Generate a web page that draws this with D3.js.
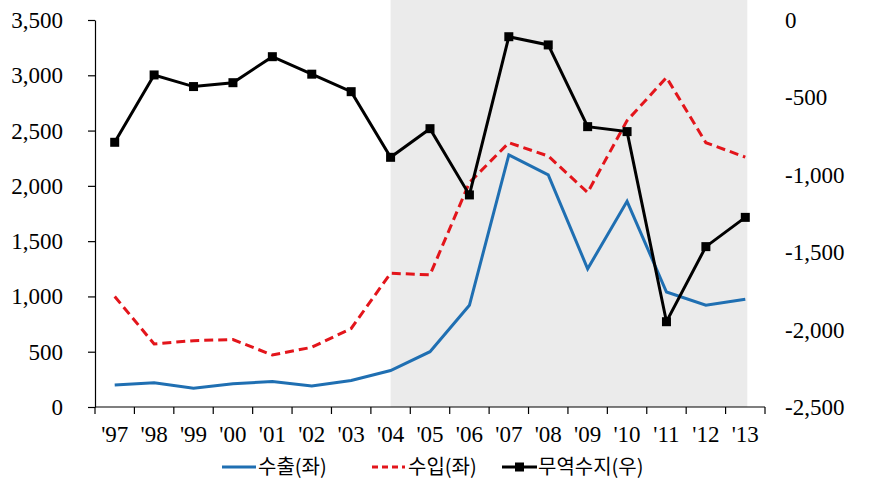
<!DOCTYPE html>
<html><head><meta charset="utf-8">
<script src="https://cdn.jsdelivr.net/npm/d3@7"></script>
</head>
<body style="margin:0;background:#fff">
<svg id="s" width="871" height="494" style="display:block"></svg>
<script>
const years = ["'97","'98","'99","'00","'01","'02","'03","'04","'05","'06","'07","'08","'09","'10","'11","'12","'13"];
const exportsVals = [200,220,170,210,230,190,240,330,500,920,2280,2100,1250,1860,1040,920,975];
const importsVals = [1000,570,600,610,470,540,710,1210,1195,2030,2390,2270,1940,2590,2980,2390,2260];
const balanceVals = [-790,-355,-430,-405,-237,-350,-463,-887,-702,-1130,-108,-161,-689,-721,-1949,-1464,-1275];
const leftTicks = [0,500,1000,1500,2000,2500,3000,3500];
const rightTicks = [0,-500,-1000,-1500,-2000,-2500];
const shadeRange = ["'04","'13"];
const legendLabels = ["수출(좌)","수입(좌)","무역수지(우)"];

const svg = d3.select("#s");
const pl = 95, pr = 765, pt = 20, pb = 407;
const x = d3.scaleBand().domain(years).range([pl,pr]).padding(0);
const cx = d => x(d) + x.bandwidth()/2;
const yL = d3.scaleLinear().domain([0,3500]).range([pb,pt]);
const yR = d3.scaleLinear().domain([-2500,0]).range([pb,pt]);
const f0 = d3.format(",");
const fmt = v => f0(v).replace("\u2212","-");
const blue = "#1f6fb2", red = "#e3151b";

svg.append("rect")
  .attr("x", cx(shadeRange[0])).attr("y", 0)
  .attr("width", cx(shadeRange[1]) - cx(shadeRange[0]) + 2)
  .attr("height", pb)
  .attr("fill", "#ebebeb");

const gL = svg.append("g").attr("transform", `translate(${pl},0)`)
  .call(d3.axisLeft(yL).tickValues(leftTicks).tickFormat("").tickSize(7).tickSizeOuter(0));
gL.select(".domain").attr("stroke","#000").attr("stroke-width",1.2);
gL.selectAll(".tick line").attr("stroke","#000").attr("stroke-width",1.2);
gL.selectAll(".tick text").remove();

leftTicks.forEach(v => {
  svg.append("text").attr("x", 63).attr("y", yL(v) + 8)
    .attr("text-anchor","end")
    .style("font-family",'"Liberation Serif"').style("font-size","23px")
    .text(fmt(v));
});
rightTicks.forEach(v => {
  svg.append("text").attr("x", 785).attr("y", yR(v) + 8)
    .style("font-family",'"Liberation Serif"').style("font-size","23px")
    .text(fmt(v));
});

svg.append("line").attr("x1",pl).attr("x2",pr).attr("y1",pb).attr("y2",pb).attr("stroke","#000").attr("stroke-width",1.2);
const bounds = years.map(d => x(d)).concat([pr]);
bounds.forEach(b => {
  svg.append("line").attr("x1",b).attr("x2",b).attr("y1",pb).attr("y2",pb+7).attr("stroke","#000").attr("stroke-width",1.2);
});
years.forEach(d => {
  svg.append("text").attr("x", cx(d)).attr("y", pb + 35)
    .attr("text-anchor","middle")
    .style("font-family",'"Liberation Serif"').style("font-size","23px")
    .text(d);
});

const lineL = d3.line().x((d,i)=>cx(years[i])).y(d=>yL(d));
const lineR = d3.line().x((d,i)=>cx(years[i])).y(d=>yR(d));
svg.append("path").attr("d", lineL(exportsVals)).attr("fill","none").attr("stroke",blue).attr("stroke-width",3);
svg.append("path").attr("d", lineL(importsVals)).attr("fill","none").attr("stroke",red).attr("stroke-width",3).attr("stroke-dasharray","9,5");
svg.append("path").attr("d", lineR(balanceVals)).attr("fill","none").attr("stroke","#000").attr("stroke-width",3);
balanceVals.forEach((v,i) => {
  svg.append("rect").attr("x",cx(years[i])-4.5).attr("y",yR(v)-4.5).attr("width",9).attr("height",9).attr("fill","#000");
});

const ly = 467;
svg.append("line").attr("x1",222).attr("x2",256).attr("y1",ly).attr("y2",ly).attr("stroke",blue).attr("stroke-width",3);
svg.append("text").attr("x",258).attr("y",ly+7).style("font-family",'"Noto Sans CJK KR"').style("font-size","20px").text(legendLabels[0]);
svg.append("line").attr("x1",372).attr("x2",405).attr("y1",ly).attr("y2",ly).attr("stroke",red).attr("stroke-width",3).attr("stroke-dasharray","6,4");
svg.append("text").attr("x",408).attr("y",ly+7).style("font-family",'"Noto Sans CJK KR"').style("font-size","20px").text(legendLabels[1]);
svg.append("line").attr("x1",502).attr("x2",537).attr("y1",ly).attr("y2",ly).attr("stroke","#000").attr("stroke-width",3);
svg.append("rect").attr("x",515).attr("y",ly-4.5).attr("width",9).attr("height",9).attr("fill","#000");
svg.append("text").attr("x",538).attr("y",ly+7).style("font-family",'"Noto Sans CJK KR"').style("font-size","20px").text(legendLabels[2]);
</script>
</body></html>
